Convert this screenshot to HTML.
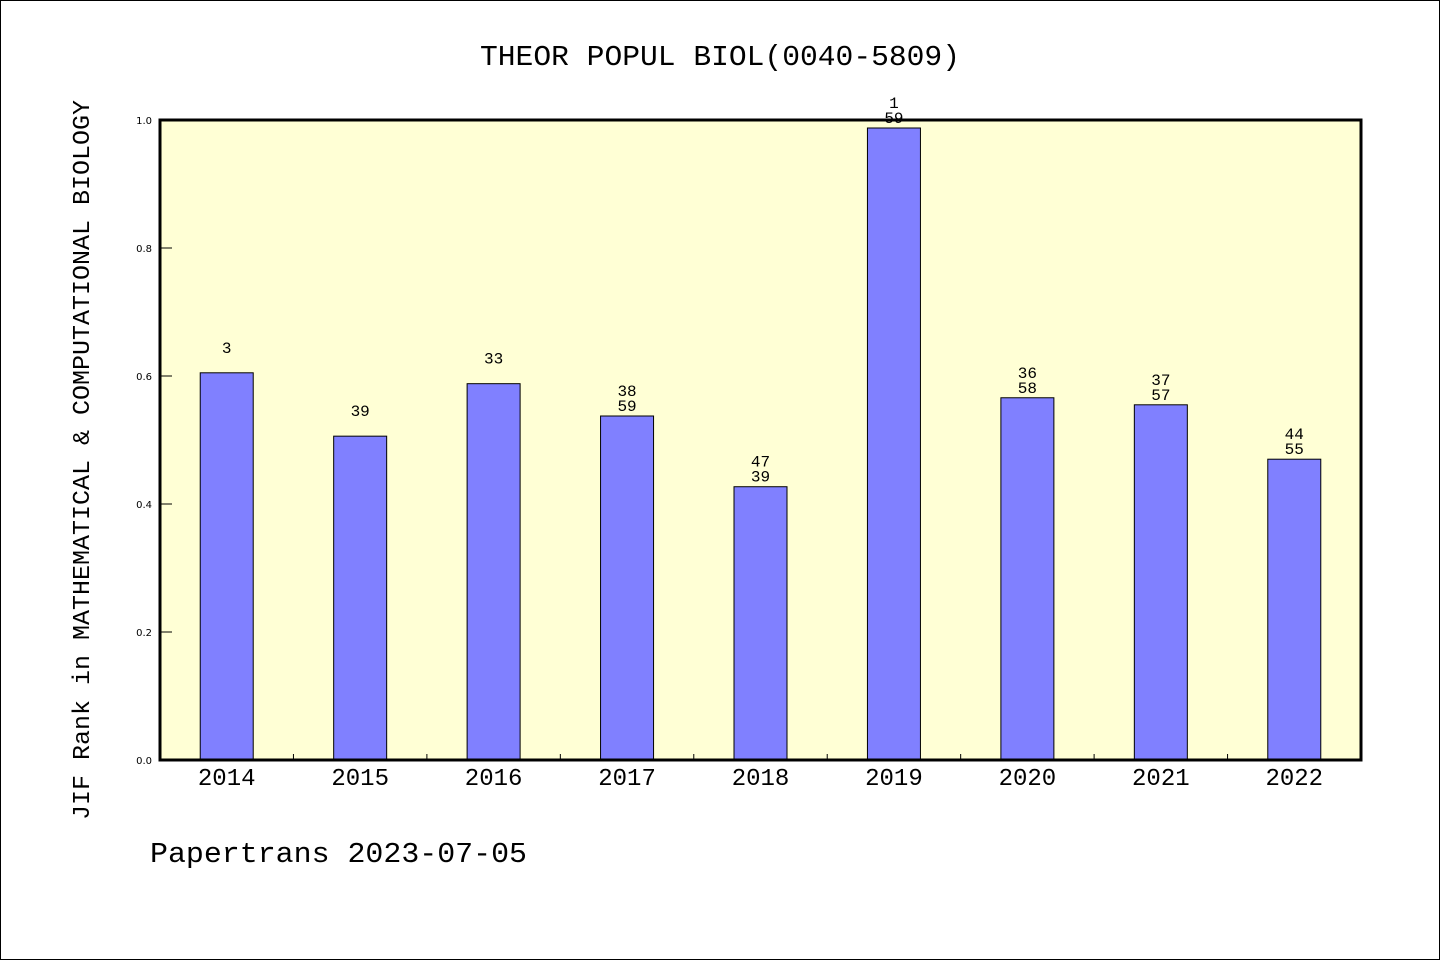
<!DOCTYPE html>
<html><head><meta charset="utf-8"><style>
body{margin:0;background:#fff}
svg{display:block;font-family:"Liberation Mono","WenQuanYi Zen Hei",monospace}
</style></head><body>
<svg id="c" width="1440" height="960" xmlns="http://www.w3.org/2000/svg">
<rect x="0.5" y="0.5" width="1439" height="959" fill="#fff" stroke="#000"/>
<text x="480" y="65" textLength="480" lengthAdjust="spacingAndGlyphs" font-size="29">THEOR POPUL BIOL(0040-5809)</text>
<text transform="translate(89,460) rotate(-90)" x="-360" y="0" textLength="720" lengthAdjust="spacingAndGlyphs" font-size="24">JIF Rank in MATHEMATICAL &amp; COMPUTATIONAL BIOLOGY</text>
<text x="150" y="862" textLength="377" lengthAdjust="spacingAndGlyphs" font-size="29">Papertrans 2023-07-05</text>
<rect x="160" y="120" width="1201" height="640" fill="#ffffd5"/>
<g id="marks"></g>
<rect x="160" y="120" width="1201" height="640" fill="none" stroke="#000" stroke-width="3"/>
</svg>
<script>
const categories=["2014","2015","2016","2017","2018","2019","2020","2021","2022"];
const values=[0.605,0.506,0.588,0.5375,0.427,0.9875,0.566,0.555,0.470];
const topLabels=["3","39","33","38","47","1","36","37","44"];
const bottomLabels=["","","","59","39","59","58","57","55"];
const yTicks=[0,0.2,0.4,0.6,0.8,1.0];
const X0=160,X1=1361,Y0=760,Y1=120;
const band=(X1-X0)/categories.length;
const y=v=>Y0-(v/1.0)*(Y0-Y1);
const xc=i=>X0+band*(i+0.5);
const NS="http://www.w3.org/2000/svg";
const g=document.getElementById('marks');
function mk(t,a,txt){const e=document.createElementNS(NS,t);for(const k in a)e.setAttribute(k,a[k]);if(txt!==undefined)e.textContent=txt;g.appendChild(e);return e;}
yTicks.forEach(t=>{
 const l=mk('line',{x1:X0,x2:X0+12,y1:y(t),y2:y(t),stroke:'#000'});
 
 
 const tx=mk('text',{x:X0-8,y:y(t)+4,'text-anchor':'end','font-size':10,'font-family':'DejaVu Sans, sans-serif'},t.toFixed(1));
 
 
});
for(let i=1;i<categories.length;i++){
 const l=mk('line',{x1:X0+band*i,x2:X0+band*i,y1:Y0,y2:Y0-6,stroke:'#000'});
 
 
}
categories.forEach((c,i)=>{
 const bw=53;
 const b=mk('rect',{x:xc(i)-bw/2,y:y(values[i]),width:bw,height:Y0-y(values[i]),fill:'#8080ff',stroke:'#000','stroke-width':1});
 
 
 const xl=mk('text',{x:xc(i),y:785,'text-anchor':'middle','font-size':24},c);
 
 
 const t1=mk('text',{x:xc(i),y:y(values[i])-20,'text-anchor':'middle','font-size':16},topLabels[i]);
 
 
 if(bottomLabels[i]){
  const t2=mk('text',{x:xc(i),y:y(values[i])-5,'text-anchor':'middle','font-size':16},bottomLabels[i]);
  
  
 }
});
</script>
</body></html>
